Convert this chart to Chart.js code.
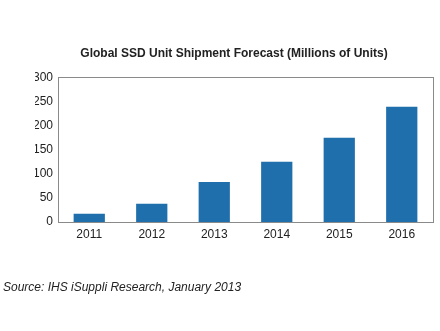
<!DOCTYPE html>
<html>
<head>
<meta charset="utf-8">
<script src="https://cdn.jsdelivr.net/npm/chart.js@4"></script>
<style>
  body { margin: 0; background: #fff; }
  #wrap { position: relative; width: 440px; height: 331px; }
  #source {
    position: absolute; left: 3px; top: 280px;
    font: italic 12px "Liberation Sans", Arial, sans-serif; color: #222;
  }
</style>
</head>
<body>
<div id="wrap">
  <canvas id="ssdChart" width="440" height="331"></canvas>
  <div id="source">Source: IHS iSuppli Research, January 2013</div>
</div>
<script>
const years = ["2011", "2012", "2013", "2014", "2015", "2016"];
const shipments = [17, 38, 83, 125, 175, 239];
const yTicks = [0, 50, 100, 150, 200, 250, 300];

// outline the whole plot area in grey
const plotBox = {
  id: "plotBox",
  afterDraw(chart) {
    const { ctx, chartArea: a } = chart;
    ctx.save();
    ctx.strokeStyle = "#8a8a8a";
    ctx.lineWidth = 1;
    ctx.strokeRect(Math.round(a.left) + 0.5, Math.round(a.top) + 0.5,
      Math.round(a.right - a.left), Math.round(a.bottom - a.top));
    ctx.restore();
  },
};

const font = { family: "'Liberation Sans', Arial, sans-serif", size: 12 };

new Chart(document.getElementById("ssdChart"), {
  type: "bar",
  data: {
    labels: years,
    datasets: [{
      data: shipments,
      backgroundColor: "#1f6fad",
      barPercentage: 0.5,
      categoryPercentage: 1,
    }],
  },
  options: {
    responsive: false,
    animation: false,
    // left padding pushes the title a bit right of the canvas centre
    layout: { padding: { left: 35, right: 7, top: 0, bottom: 79 } },
    plugins: {
      legend: { display: false },
      tooltip: { enabled: false },
      title: {
        display: true,
        text: "Global SSD Unit Shipment Forecast (Millions of Units)",
        color: "#222",
        font: { ...font, weight: "bold" },
        padding: { top: 46, bottom: 17 },
      },
    },
    scales: {
      x: {
        grid: { display: false, drawTicks: false },
        border: { display: false },
        ticks: { color: "#222", font, padding: 5 },
        afterFit: (s) => { s.height = 30; },
      },
      y: {
        min: 0,
        max: 300,
        grid: { display: false, drawTicks: false },
        border: { display: false },
        afterBuildTicks: (s) => { s.ticks = yTicks.map((v) => ({ value: v })); },
        ticks: { color: "#222", font, padding: 5 },
        afterFit: (s) => { s.width = 23; },
      },
    },
  },
  plugins: [plotBox],
});
</script>
</body>
</html>
